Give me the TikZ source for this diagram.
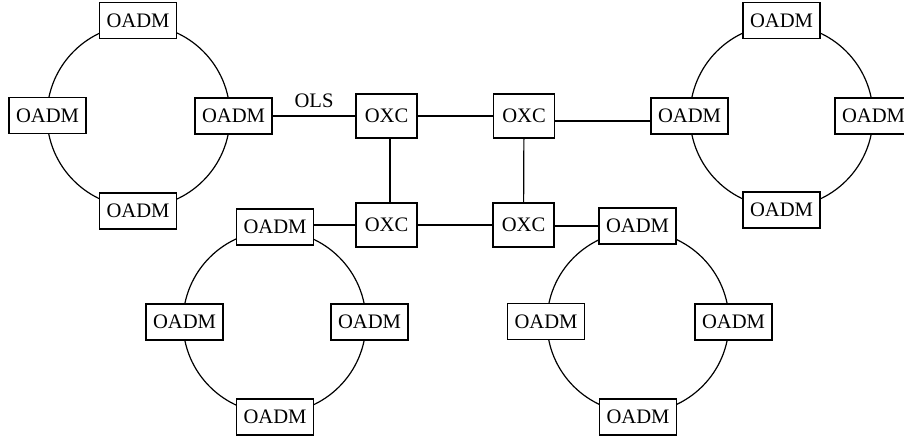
\documentclass[tikz,border=0pt]{standalone}
\usepackage{fontspec}
\setmainfont{Liberation Serif}
\begin{document}
\begin{tikzpicture}[x=0.5pt,y=-0.5pt,
  box/.style={draw, fill=white, line width=0.6pt, inner sep=0pt, font=\fontsize{10.3}{12}\selectfont},
  oadm/.style={box, minimum width=38.5pt, minimum height=18pt},
  oxc/.style={box, minimum width=30.5pt, minimum height=22pt},
  link/.style={line width=0.6pt},
  ring/.style={line width=0.6pt}]
\useasboundingbox (0,0) rectangle (904,439);
% ring centres
\coordinate (c1) at (138.5,116);
\coordinate (c2) at (781.5,116);
\coordinate (c3) at (274.5,322);
\coordinate (c4) at (638,322);
\draw[ring] (c1) circle[radius=45.75pt];
\draw[ring] (c2) circle[radius=45.75pt];
\draw[ring] (c3) circle[radius=45.75pt];
\draw[ring] (c4) circle[radius=45.5pt];
% ring 1
\node[oadm] (r1t) at (138,20.5) {OADM};
\node[oadm] (r1b) at (138,211) {OADM};
\node[oadm] (r1l) at (47.5,115.5) {OADM};
\node[oadm] (r1r) at (233.5,116) {OADM};
% ring 2
\node[oadm] (r2t) at (781.5,20.5) {OADM};
\node[oadm] (r2b) at (781.5,210) {OADM};
\node[oadm] (r2l) at (689.5,116) {OADM};
\node[oadm] (r2r) at (873.5,116) {OADM};
% ring 3
\node[oadm] (r3t) at (275,227) {OADM};
\node[oadm] (r3b) at (275,417) {OADM};
\node[oadm] (r3l) at (184.5,322) {OADM};
\node[oadm] (r3r) at (369.5,322) {OADM};
% ring 4
\node[oadm] (r4t) at (637.5,226) {OADM};
\node[oadm] (r4b) at (638,417) {OADM};
\node[oadm] (r4l) at (546,321.5) {OADM};
\node[oadm] (r4r) at (733.5,322) {OADM};
% OXCs
\node[oxc] (xa) at (386.5,116) {OXC};
\node[oxc] (xb) at (524,116) {OXC};
\node[oxc] (xc) at (386.5,225) {OXC};
\node[oxc] (xd) at (523.5,225) {OXC};
% links
\draw[link] (r1r.east) -- node[above=0.5pt, font=\fontsize{10.3}{12}\selectfont] (ols) {OLS} (xa.west);
\draw[link] (xa) -- (xb);
\draw[link] ([yshift=-2.5pt]xb.east) -- ([yshift=-2.5pt]r2l.west);
\draw[link] ([xshift=1.75pt]xa.south) -- ([xshift=1.75pt]xc.north);
\draw[link] (xb) -- (xd);
\draw[link] (xc) -- (xd);
\draw[link] (xc.west) -- (xc.west -| r3t.east);
\draw[link] (r4t.west) -- (r4t.west -| xd.east);
\end{tikzpicture}
\end{document}
